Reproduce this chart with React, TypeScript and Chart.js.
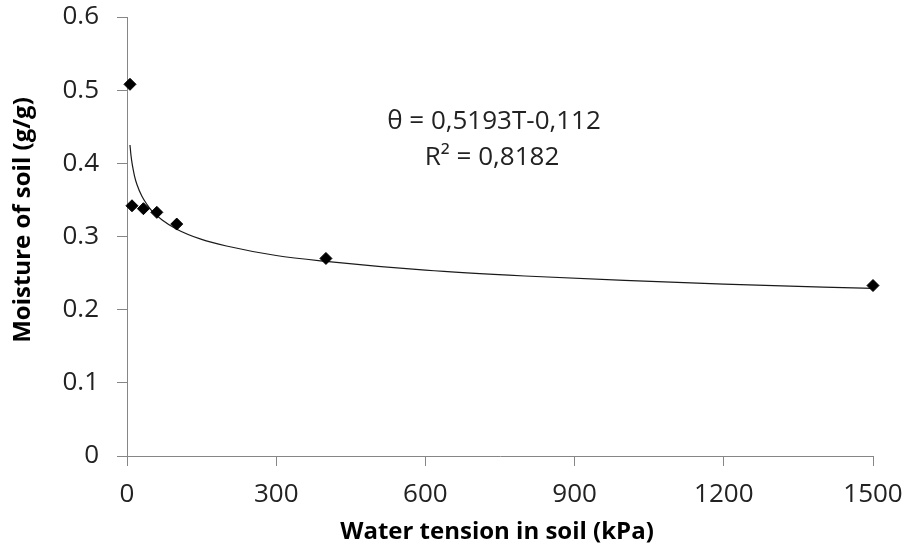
import React, { useEffect, useRef } from "react";
import { Chart, registerables } from "chart.js";

Chart.register(...registerables);

// Measured points: water tension (kPa) vs soil moisture (g/g)
const tension = [6, 10, 33, 60, 100, 400, 1500];
const moisture = [0.508, 0.342, 0.338, 0.333, 0.317, 0.270, 0.233];

// Power trend line
const trendTension = [6, 8, 10, 12, 15, 20, 30, 40, 50, 70, 100, 150, 200, 300, 400, 600, 800, 1000, 1200, 1500];
const trendMoisture = [0.425, 0.411, 0.401, 0.393, 0.383, 0.371, 0.355, 0.344, 0.335, 0.323, 0.310, 0.296, 0.287, 0.274, 0.266, 0.254, 0.246, 0.240, 0.235, 0.229];

const xTitle = "Water tension in soil (kPa)";
const yTitle = "Moisture of soil (g/g)";
const equationLines = ["\u03B8 = 0,5193T-0,112", "R\u00B2 = 0,8182"];

const FONT = "'Open Sans', 'DejaVu Sans', sans-serif";
const AXIS_GRAY = "#868686";

export default function App() {
  const ref = useRef<HTMLCanvasElement | null>(null);

  useEffect(() => {
    const canvas = ref.current;
    if (!canvas) return;

    const textPlugin = {
      id: "textPlugin",
      afterDraw(chart: any) {
        const ctx = chart.ctx;
        ctx.save();
        ctx.fillStyle = "#000";
        ctx.textAlign = "center";
        ctx.textBaseline = "middle";
        // x title
        ctx.font = `bold 24px ${FONT}`;
        ctx.fillText(xTitle, 497, 532);
        // y title
        ctx.save();
        ctx.translate(23, 220);
        ctx.rotate(-Math.PI / 2);
        ctx.fillText(yTitle, 0, 0);
        ctx.restore();
        // equation
        ctx.fillStyle = "#222";
        ctx.font = `26px ${FONT}`;
        ctx.fillText(equationLines[0], 494, 122);
        ctx.fillText(equationLines[1], 492, 158);
        ctx.restore();
      },
    };

    const chart = new Chart(canvas, {
      type: "scatter",
      data: {
        datasets: [
          {
            label: "Measured",
            data: tension.map((t, i) => ({ x: t, y: moisture[i] })),
            pointStyle: "rectRot",
            pointRadius: 6,
            pointBackgroundColor: "#000",
            pointBorderColor: "#000",
            pointBorderWidth: 1,
            showLine: false,
            clip: false,
            order: 0,
          },
          {
            label: "Trend",
            data: trendTension.map((t, i) => ({ x: t, y: trendMoisture[i] })),
            showLine: true,
            borderColor: "#1a1a1a",
            borderWidth: 1.2,
            pointRadius: 0,
            cubicInterpolationMode: "monotone",
            fill: false,
            order: 1,
          },
        ],
      },
      options: {
        responsive: false,
        animation: false,
        layout: { padding: { top: 17, right: 34, left: 0, bottom: 0 } },
        plugins: {
          legend: { display: false },
          tooltip: { enabled: false },
          title: { display: false },
        },
        scales: {
          x: {
            type: "linear",
            min: 0,
            max: 1500,
            afterFit: (s: any) => {
              s.height = 96;
              s.paddingLeft = 0;
              s.paddingRight = 0;
              s.paddingTop = 0;
              s.paddingBottom = 0;
            },
            ticks: {
              stepSize: 300,
              padding: 13,
              color: "#222",
              font: { family: FONT, size: 26 },
              maxRotation: 0,
              callback: (v: any) => String(v),
            },
            grid: {
              drawOnChartArea: false,
              drawTicks: true,
              tickLength: 10,
              color: AXIS_GRAY,
            },
            border: { display: true, color: AXIS_GRAY, width: 1 },
          },
          y: {
            type: "linear",
            min: 0,
            max: 0.6,
            afterFit: (s: any) => {
              s.width = 127;
              s.paddingLeft = 0;
              s.paddingRight = 0;
              s.paddingTop = 0;
              s.paddingBottom = 0;
            },
            ticks: {
              stepSize: 0.1,
              padding: 18,
              color: "#222",
              font: { family: FONT, size: 26 },
              callback: (v: any) => (Number(v) === 0 ? "0" : Number(v).toFixed(1)),
            },
            grid: {
              drawOnChartArea: false,
              drawTicks: true,
              tickLength: 10,
              color: AXIS_GRAY,
            },
            border: { display: true, color: AXIS_GRAY, width: 1 },
          },
        },
      },
      plugins: [textPlugin],
    });

    return () => chart.destroy();
  }, []);

  return (
    <div style={{ position: "fixed", left: 0, top: 0, width: 907, height: 552, background: "#fff" }}>
      <canvas ref={ref} width={907} height={552} style={{ width: 907, height: 552 }} />
    </div>
  );
}
